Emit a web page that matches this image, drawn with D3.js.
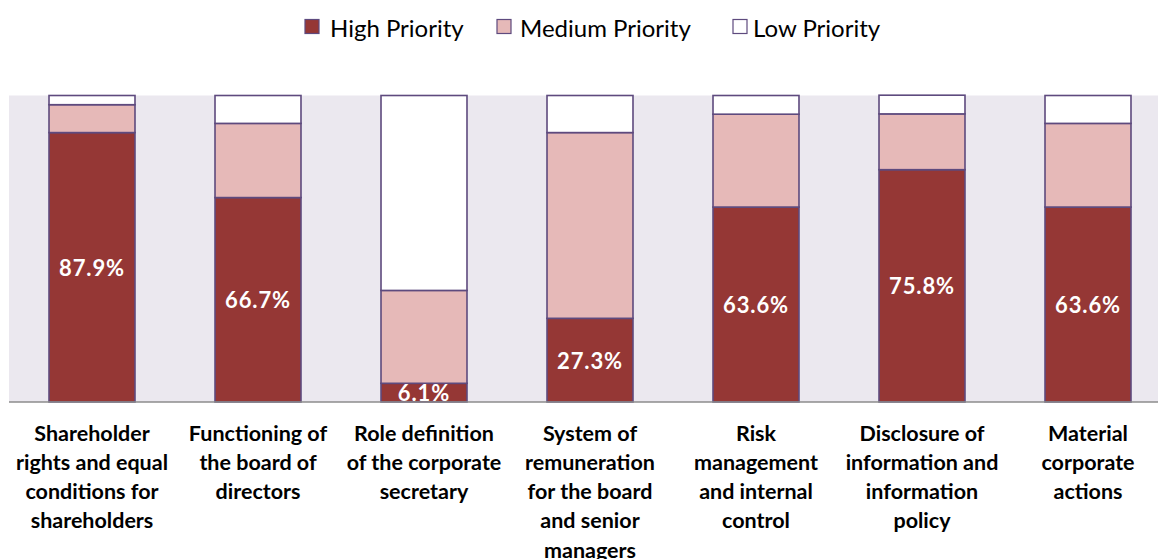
<!DOCTYPE html>
<html>
<head>
<meta charset="utf-8">
<script src="https://cdn.jsdelivr.net/npm/d3@7"></script>
<style>
  html, body { margin: 0; padding: 0; background: #ffffff; }
  svg { display: block; font-family: Lato, "Open Sans", sans-serif; }
</style>
</head>
<body>
<svg id="chart" width="1158" height="559"></svg>
<script>
const categories = [
  "Shareholder\nrights and equal\nconditions for\nshareholders",
  "Functioning of\nthe board of\ndirectors",
  "Role definition\nof the corporate\nsecretary",
  "System of\nremuneration\nfor the board\nand senior\nmanagers",
  "Risk\nmanagement\nand internal\ncontrol",
  "Disclosure of\ninformation and\ninformation\npolicy",
  "Material\ncorporate\nactions"
];
const seriesNames = ["High Priority", "Medium Priority", "Low Priority"];
const highPriority   = [87.9, 66.7, 6.1, 27.3, 63.6, 75.8, 63.6];
const mediumPriority = [9.1, 24.2, 30.3, 60.6, 30.3, 18.2, 27.3];
const lowPriority    = [3.0, 9.1, 63.6, 12.1, 6.1, 6.1, 9.1];
const colors = ["#953735", "#E6B9B8", "#FFFFFF"];

const svg = d3.select("#chart");
const plot = { left: 9, right: 1171, top: 95.5, bottom: 402 };

const x = d3.scaleBand().domain(d3.range(categories.length))
  .range([plot.left, plot.right]).paddingInner(0.482).paddingOuter(0.241);
const y = d3.scaleLinear().domain([0, 100]).range([plot.bottom, plot.top]);

svg.append("rect").attr("x", plot.left).attr("y", plot.top)
  .attr("width", plot.right - plot.left).attr("height", plot.bottom - plot.top)
  .attr("fill", "#EBE8EF");

const rows = categories.map((c, i) => ({ i, High: highPriority[i], Medium: mediumPriority[i], Low: lowPriority[i] }));
const stack = d3.stack().keys(["High", "Medium", "Low"]);
const stacked = stack(rows);

stacked.forEach((layer, k) => {
  svg.append("g").selectAll("rect").data(layer).join("rect")
    .attr("x", d => x(d.data.i))
    .attr("width", x.bandwidth())
    .attr("y", d => y(d[1]))
    .attr("height", d => y(d[0]) - y(d[1]))
    .attr("fill", colors[k])
    .attr("stroke", "#5E4A7E")
    .attr("stroke-width", 1.6);
});

// axis line
svg.append("g").attr("transform", `translate(0,${plot.bottom})`)
  .call(d3.axisBottom(x).tickSize(0).tickFormat(""))
  .call(g => g.select(".domain").attr("stroke", "#8C8C8C").attr("stroke-width", 1.5)
    .attr("d", `M${plot.left},0H${plot.right}`));

// value labels
svg.append("g").selectAll("text").data(stacked[0]).join("text")
  .attr("x", d => x(d.data.i) + x.bandwidth() / 2)
  .attr("y", d => (y(d[0]) + y(d[1])) / 2 + 8.5)
  .attr("text-anchor", "middle")
  .attr("fill", "#FFFFFF")
  .attr("font-weight", "bold")
  .attr("font-size", "22px")
  .attr("letter-spacing", "0.9px")
  .text(d => d3.format(".1f")(d.data.High) + "%");

// category labels
const cat = svg.append("g").selectAll("text").data(categories).join("text")
  .attr("text-anchor", "middle")
  .attr("font-weight", "bold")
  .attr("font-size", "21.5px")
  .attr("fill", "#000");
cat.each(function(c, i) {
  const t = d3.select(this);
  c.split("\n").forEach((line, j) => {
    t.append("tspan").attr("x", x(i) + x.bandwidth() / 2)
      .attr("y", 440.5 + j * 29.3).text(line);
  });
});

// legend
const legendItems = [
  { name: seriesNames[0], color: colors[0], sx: 305, tx: 330 },
  { name: seriesNames[1], color: colors[1], sx: 497, tx: 520 },
  { name: seriesNames[2], color: colors[2], sx: 733, tx: 753 }
];
const lg = svg.append("g").selectAll("g").data(legendItems).join("g");
lg.append("rect").attr("x", d => d.sx).attr("y", 19.5).attr("width", 14).attr("height", 14)
  .attr("fill", d => d.color).attr("stroke", "#5E4A7E").attr("stroke-width", 1.2);
lg.append("text").attr("x", d => d.tx).attr("y", 37).attr("font-size", "24px")
  .attr("fill", "#000").text(d => d.name);
</script>
</body>
</html>
